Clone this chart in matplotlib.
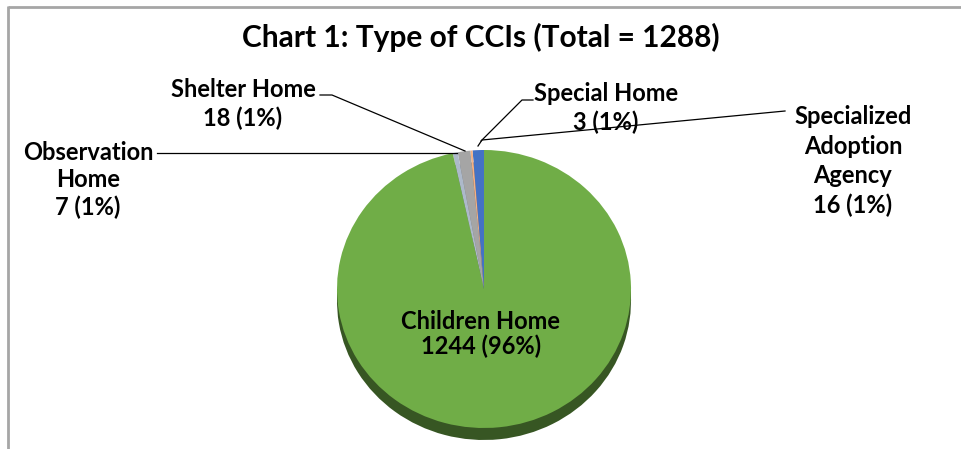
import matplotlib
matplotlib.use("Agg")
import matplotlib.pyplot as plt
from matplotlib.patches import Rectangle

# ---- data ----
categories = ["Specialized Adoption Agency", "Special Home", "Shelter Home",
              "Observation Home", "Children Home"]
values = [16, 3, 18, 7, 1244]
pct_labels = ["1%", "1%", "1%", "1%", "96%"]
title = "Chart 1: Type of CCIs (Total = 1288)"

colors = ["#4472C4", "#F4B183", "#A5A5A5", "#ADB9CA", "#70AD47"]
side_colors = ["#2F4F86", "#A9603A", "#6E6E6E", "#75808F", "#375623"]

plt.rcParams['font.family'] = ['Lato', 'DejaVu Sans']

W, H = 962, 449
fig = plt.figure(figsize=(W / 100, H / 100), dpi=100)
fig.patch.set_facecolor("white")

# ---- pie (3D-like, tilted) ----
left, right, top, bottom_face, depth_px = 337, 631, 150, 428, 12
bottom = bottom_face + depth_px
d = depth_px * 2 / (bottom_face - top)
pax = fig.add_axes([left / W, (H - bottom) / H, (right - left) / W, (bottom - top) / H])
pax.set_zorder(1)

# side (depth)
pax.pie(values, colors=side_colors, startangle=90, counterclock=True,
        radius=1, center=(0, -d), wedgeprops=dict(linewidth=0, zorder=1))
pax.add_patch(Rectangle((-1, -d), 2, d, color=side_colors[-1], zorder=1, lw=0))
# top face
pax.pie(values, colors=colors, startangle=90, counterclock=True,
        radius=1, center=(0, 0),
        wedgeprops=dict(linewidth=0, zorder=3))
pax.set_aspect("auto")
pax.set_xlim(-1, 1)
pax.set_ylim(-1 - d, 1)
pax.axis("off")

# overlay axes in pixel coordinates
ov = fig.add_axes([0, 0, 1, 1])
ov.set_zorder(2)
ov.patch.set_alpha(0)
ov.set_xlim(0, W)
ov.set_ylim(H, 0)
ov.axis("off")

# frame (top + left)
ov.plot([8, W], [6.5, 6.5], color="#A6A6A6", lw=2, solid_capstyle="butt")
ov.plot([8.5, 8.5], [6, H], color="#A6A6A6", lw=2, solid_capstyle="butt")

ov.text(481, 37, title, ha="center", va="center", fontsize=21.5,
        fontweight="bold", color="black")

# ---- labels ----
lab_fs = 17
label_text = [
    "Specialized\nAdoption\nAgency\n%d (%s)" % (values[0], pct_labels[0]),
    "Special Home\n%d (%s)" % (values[1], pct_labels[1]),
    "Shelter Home\n%d (%s)" % (values[2], pct_labels[2]),
    "Observation\nHome\n%d (%s)" % (values[3], pct_labels[3]),
    "Children Home\n%d (%s)" % (values[4], pct_labels[4]),
]
label_pos = [(853, 161), (606, 108), (243, 104), (88, 180), (481, 334)]
label_ls = [1.33, 1.3, 1.3, 1.22, 1.08]
for t, (x, y), ls in zip(label_text, label_pos, label_ls):
    ov.text(x, y, t, ha="center", va="center", fontsize=lab_fs,
            fontweight="bold", color="black", linespacing=ls, zorder=5)

# leader lines
lk = dict(color="black", lw=0.9, zorder=6)
ov.plot([320, 332, 465], [95, 95, 151], **lk)
ov.plot([157, 457], [153, 153], **lk)
ov.plot([533, 522, 481], [100, 100, 141], **lk)
ov.plot([785, 482, 478], [111, 140, 146], **lk)

fig.savefig("out.png", dpi=100, facecolor="white")
